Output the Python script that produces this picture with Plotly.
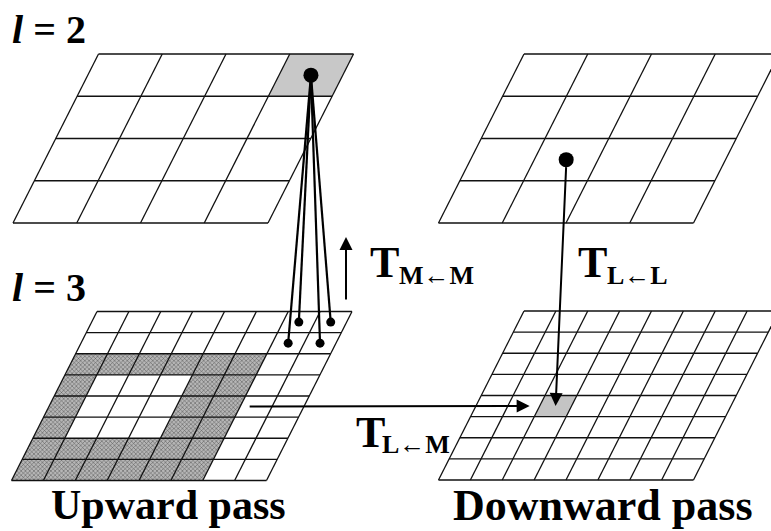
import plotly.graph_objects as go

# ---------------- data ----------------
level_labels = ["l = 2", "l = 3"]
pass_labels = ["Upward pass", "Downward pass"]
coarse_divisions = 4          # l = 2 grid: 4 x 4 cells
fine_divisions = 8            # l = 3 grid: 8 x 8 cells
coarse_up_shaded = [(0, 3)]                  # (row, col) shaded source box at l=2
coarse_down_source = [(2, 1)]                # l=2 box in downward pass
fine_up_children = [(0, 6), (0, 7), (1, 6), (1, 7)]   # children at l=3
interaction_block_rows = [2, 3, 4, 5, 6, 7]
interaction_block_cols = [0, 1, 2, 3, 4, 5]
near_rows = [3, 4, 5]
near_cols = [1, 2, 3]
fine_down_target = [(4, 2)]
operator_labels = [("T", "M\u2190M"), ("T", "L\u2190L"), ("T", "L\u2190M")]

# ---------------- geometry (layout) ----------------
W, H, S = 255.0, 169.0, 85.5
origins = {
    "A": (98.5, 54.0),   # upward, l=2
    "B": (524.0, 54.0),  # downward, l=2
    "C": (97.0, 311.5),  # upward, l=3
    "D": (524.0, 311.0), # downward, l=3
}


def pt(g, u, v):
    x0, y0 = origins[g]
    return x0 + u * W - v * S, y0 + v * H


def cell_poly(g, n, r, c):
    pts = [pt(g, c / n, r / n), pt(g, (c + 1) / n, r / n),
           pt(g, (c + 1) / n, (r + 1) / n), pt(g, c / n, (r + 1) / n),
           pt(g, c / n, r / n)]
    return [p[0] for p in pts], [p[1] for p in pts]


def cell_center(g, n, r, c):
    return pt(g, (c + 0.5) / n, (r + 0.5) / n)


fig = go.Figure()
FONT = "Liberation Serif"

# shaded cells
def add_cells(g, n, cells, color, pattern=None):
    xs, ys = [], []
    for r, c in cells:
        px, py = cell_poly(g, n, r, c)
        xs += px + [None]
        ys += py + [None]
    kw = dict(x=xs, y=ys, mode="lines", fill="toself", fillcolor=color,
              line=dict(width=0, color=color), hoverinfo="skip", showlegend=False)
    if pattern:
        kw["fillpattern"] = pattern
    fig.add_trace(go.Scatter(**kw))


add_cells("A", coarse_divisions, coarse_up_shaded, "#c8c8c8")
add_cells("D", fine_divisions, fine_down_target, "#c4c4c4")
inter = [(r, c) for r in interaction_block_rows for c in interaction_block_cols
         if not (r in near_rows and c in near_cols)]
add_cells("C", fine_divisions, inter, "#a0a0a0",
          pattern=dict(shape="x", size=3, solidity=0.3, fgcolor="#505050",
                       bgcolor="#b6b6b6", fillmode="replace"))

# grid lines
for g, n in [("A", coarse_divisions), ("B", coarse_divisions),
             ("C", fine_divisions), ("D", fine_divisions)]:
    xs, ys = [], []
    for i in range(n + 1):
        a, b = pt(g, 0, i / n), pt(g, 1, i / n)
        xs += [a[0], b[0], None]
        ys += [a[1], b[1], None]
        a, b = pt(g, i / n, 0), pt(g, i / n, 1)
        xs += [a[0], b[0], None]
        ys += [a[1], b[1], None]
    fig.add_trace(go.Scatter(x=xs, y=ys, mode="lines",
                             line=dict(color="#111", width=1.3),
                             hoverinfo="skip", showlegend=False))

# upward pass links: parent to children
px_, py_ = cell_center("A", coarse_divisions, *coarse_up_shaded[0])
xs, ys = [], []
cx, cy = [], []
for r, c in fine_up_children:
    x, y = cell_center("C", fine_divisions, r, c)
    xs += [px_, x, None]
    ys += [py_, y, None]
    cx.append(x)
    cy.append(y)
fig.add_trace(go.Scatter(x=xs, y=ys, mode="lines", line=dict(color="black", width=2.2),
                         hoverinfo="skip", showlegend=False))
fig.add_trace(go.Scatter(x=cx, y=cy, mode="markers",
                         marker=dict(size=9, color="black"),
                         hoverinfo="skip", showlegend=False))

# downward source
bx, by = cell_center("B", coarse_divisions, *coarse_down_source[0])
tx, ty = cell_center("D", fine_divisions, *fine_down_target[0])
fig.add_trace(go.Scatter(x=[px_, bx], y=[py_, by], mode="markers",
                         marker=dict(size=15, color="black"),
                         hoverinfo="skip", showlegend=False))

ann = []
# arrows
def arrow(x0, y0, x1, y1):
    ann.append(dict(x=x1, y=y1, ax=x0, ay=y0, xref="x", yref="y", axref="x", ayref="y",
                    showarrow=True, arrowhead=2, arrowsize=1.3, arrowwidth=2,
                    arrowcolor="black", text=""))

arrow(bx, by + 6, tx, ty)
sx, sy = pt("C", 6 / fine_divisions, 0.5625)
ex, ey = pt("D", 2 / fine_divisions, 0.5625)
arrow(sx + 8, sy, ex - 10, ey)
arrow(346, 301, 346, 237)

# text
ann.append(dict(x=10, y=29, xref="x", yref="y", xanchor="left", yanchor="middle",
                text="<b><i>l</i> = 2</b>", showarrow=False,
                font=dict(family=FONT, size=40, color="black")))
ann.append(dict(x=10, y=287, xref="x", yref="y", xanchor="left", yanchor="middle",
                text="<b><i>l</i> = 3</b>", showarrow=False,
                font=dict(family=FONT, size=40, color="black")))
ann.append(dict(x=168, y=505, xref="x", yref="y", xanchor="center", yanchor="middle",
                text="<b>" + pass_labels[0] + "</b>", showarrow=False,
                font=dict(family=FONT, size=42, color="black")))
ann.append(dict(x=603, y=505, xref="x", yref="y", xanchor="center", yanchor="middle",
                text="<b>" + pass_labels[1] + "</b>", showarrow=False,
                font=dict(family=FONT, size=44, color="black")))

op_pos = [(368, 262, 397, 275), (576, 262, 605, 275), (354, 432, 380, 444)]
for (big, sub), (x1, y1, x2, y2) in zip(operator_labels, op_pos):
    ann.append(dict(x=x1, y=y1, xref="x", yref="y", xanchor="left", yanchor="middle",
                    text="<b>" + big + "</b>", showarrow=False,
                    font=dict(family=FONT, size=44, color="black")))
    ann.append(dict(x=x2, y=y2, xref="x", yref="y", xanchor="left", yanchor="middle",
                    text="<b>" + sub + "</b>", showarrow=False,
                    font=dict(family=FONT, size=26, color="black")))

fig.update_layout(
    width=771, height=531, autosize=False,
    margin=dict(l=0, r=0, t=0, b=0),
    paper_bgcolor="white", plot_bgcolor="white",
    xaxis=dict(range=[0, 771], visible=False, fixedrange=True),
    yaxis=dict(range=[531, 0], visible=False, fixedrange=True),
    annotations=ann,
    showlegend=False,
)
fig.write_html("out.html", config={"displayModeBar": False},
               post_script="document.body.style.margin='0';document.body.style.overflow='hidden';")
